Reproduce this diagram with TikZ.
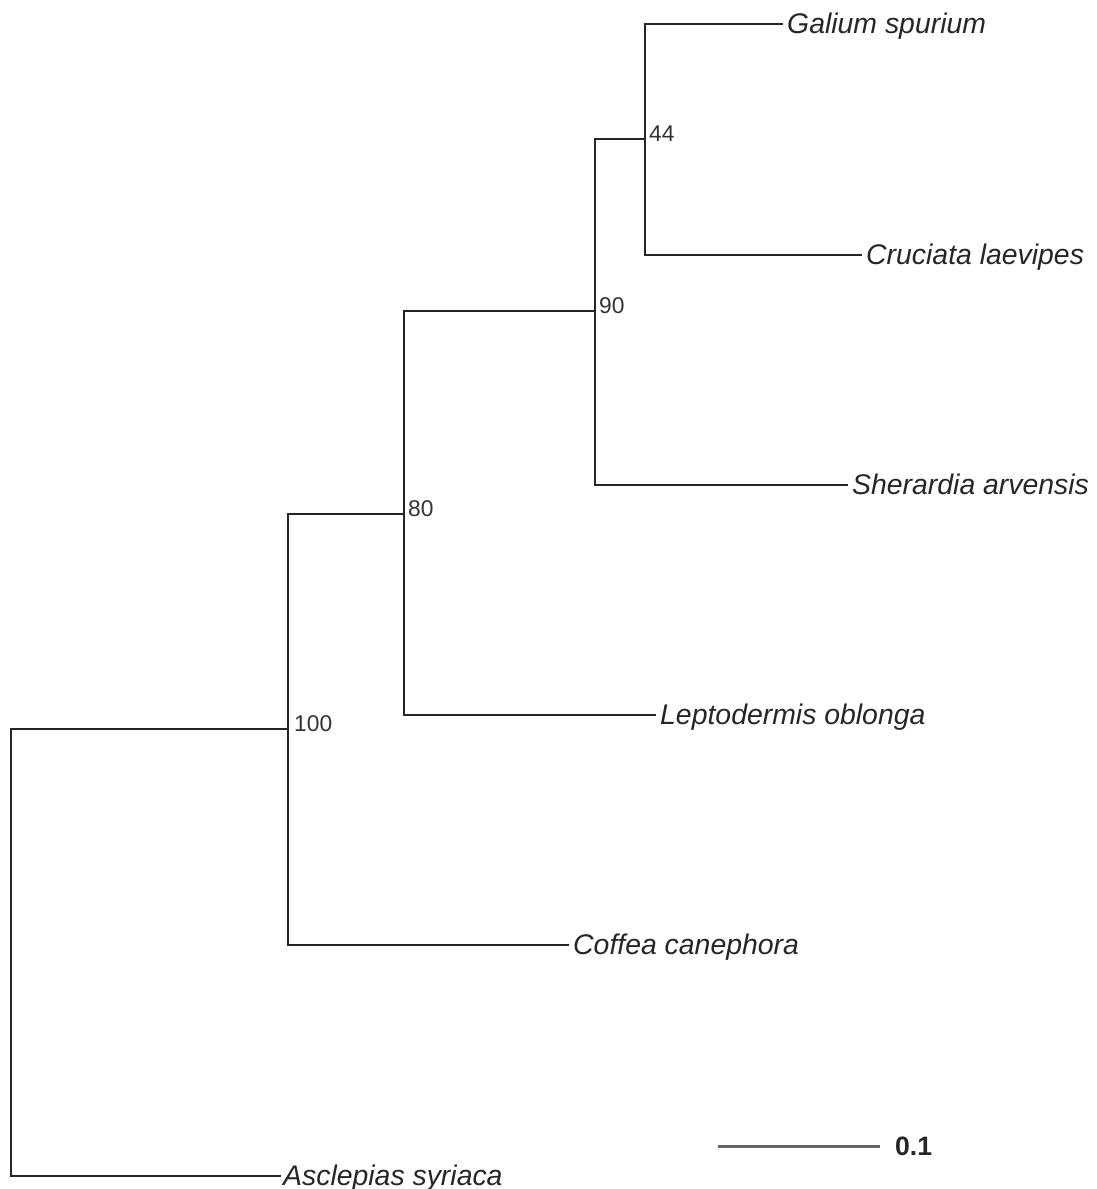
\documentclass[tikz,border=0pt]{standalone}
\usepackage{fontspec}
\setmainfont{Liberation Sans}
\begin{document}
\begin{tikzpicture}[x=1pt,y=-1pt,
  branch/.style={draw=black!85,line width=1.6pt,line cap=rect},
  leaf/.style={anchor=base west,inner sep=0pt,font=\fontsize{28.4}{30}\selectfont\itshape,text=black!85},
  support/.style={anchor=base west,inner sep=0pt,font=\fontsize{22.8}{24}\selectfont,text=black!80},
  scalebar/.style={draw=black!60,line width=3pt}]
\useasboundingbox (0,0) rectangle (1096,1189);
% internal nodes
\coordinate (r) at (11,729);
\coordinate (n100) at (288,729);
\coordinate (n80) at (404,514);
\coordinate (n90) at (595,311);
\coordinate (n44) at (645,139);
% leaf end points
\coordinate (eGal) at (782,24);
\coordinate (eCru) at (861,255);
\coordinate (eShe) at (847,485);
\coordinate (eLep) at (655,715);
\coordinate (eCof) at (568,945);
\coordinate (eAsc) at (280,1176);
% leaf labels
\node[leaf] (Gal) at ([xshift=5pt,yshift=-9.5pt]eGal) {Galium spurium};
\node[leaf] (Cru) at ([xshift=5pt,yshift=-9.5pt]eCru) {Cruciata laevipes};
\node[leaf] (She) at ([xshift=5pt,yshift=-9.5pt]eShe) {Sherardia arvensis};
\node[leaf] (Lep) at ([xshift=5pt,yshift=-9.5pt]eLep) {Leptodermis oblonga};
\node[leaf] (Cof) at ([xshift=5pt,yshift=-9.5pt]eCof) {Coffea canephora};
\node[leaf] (Asc) at ([xshift=3pt,yshift=-9.5pt]eAsc) {Asclepias syriaca};
% support values
\node[support] (s44) at ([xshift=4pt,yshift=-2pt]n44) {44};
\node[support] (s90) at ([xshift=4pt,yshift=-2pt]n90) {90};
\node[support] (s80) at ([xshift=4pt,yshift=-2pt]n80) {80};
\node[support] (s100) at ([xshift=6pt,yshift=-2pt]n100) {100};
% branches
\draw[branch] (n100) -- (r) |- (eAsc);
\draw[branch] (n100) |- (n80);
\draw[branch] (n100) |- (eCof);
\draw[branch] (n80) |- (n90);
\draw[branch] (n80) |- (eLep);
\draw[branch] (n90) |- (n44);
\draw[branch] (n90) |- (eShe);
\draw[branch] (n44) |- (eGal);
\draw[branch] (n44) |- (eCru);
% scale bar
\coordinate (sb1) at (718,1146);
\coordinate (sb2) at (880,1146);
\draw[scalebar] (sb1) -- (sb2);
\node[anchor=west,inner sep=0pt,font=\fontsize{26.6}{28}\selectfont\bfseries,text=black!85] (sbl) at (895,1146) {0.1};
\end{tikzpicture}
\end{document}
